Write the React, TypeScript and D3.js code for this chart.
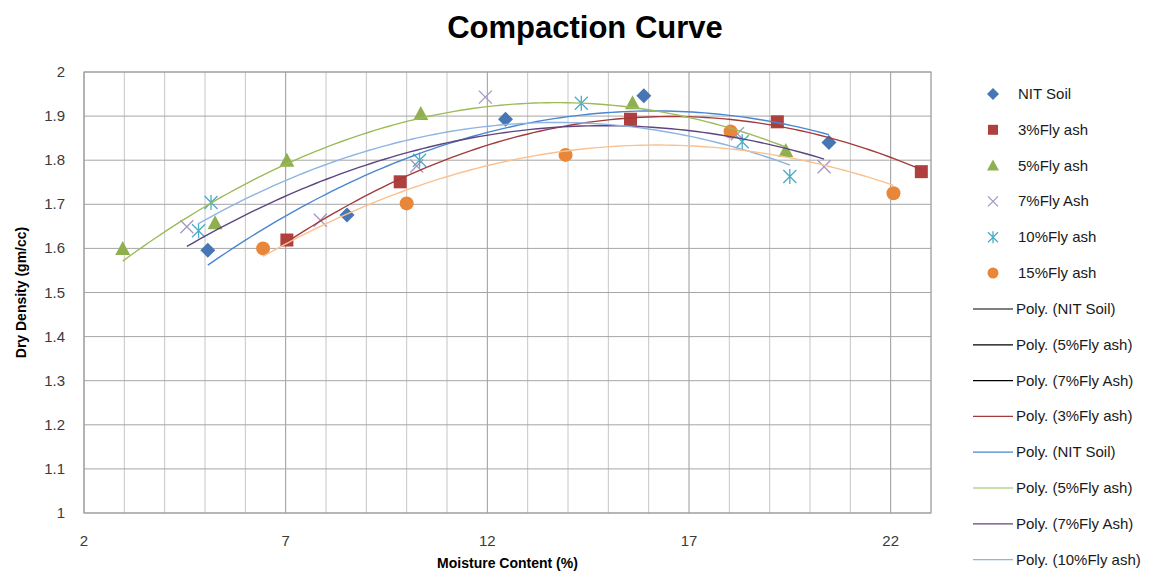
import React from 'react';
import * as d3 from 'd3';

// moisture content (%) and dry density (gm/cc)
const nitX = [5.07, 8.52, 12.45, 15.88, 20.47];
const nitY = [1.596, 1.676, 1.893, 1.946, 1.84];
const fa3X = [7.03, 9.84, 15.55, 19.19, 22.76];
const fa3Y = [1.619, 1.751, 1.893, 1.887, 1.774];
const fa5X = [2.96, 5.25, 7.03, 10.35, 15.6, 19.4];
const fa5Y = [1.6, 1.658, 1.8, 1.906, 1.93, 1.822];
const fa7X = [4.55, 7.86, 10.25, 11.95, 18.2, 20.35];
const fa7Y = [1.649, 1.664, 1.787, 1.943, 1.86, 1.785];
const fa10X = [4.84, 5.15, 10.32, 14.33, 18.32, 19.5];
const fa10Y = [1.64, 1.704, 1.8, 1.929, 1.842, 1.763];
const fa15X = [6.44, 10.0, 13.94, 18.03, 22.07];
const fa15Y = [1.6, 1.702, 1.812, 1.865, 1.725];

const xTicks = [2, 7, 12, 17, 22];
const yTicks = [1, 1.1, 1.2, 1.3, 1.4, 1.5, 1.6, 1.7, 1.8, 1.9, 2];

const series = [
  { name: 'NIT Soil', xs: nitX, ys: nitY, marker: 'diamond', color: '#4676b4', trend: '#4a86d0' },
  { name: '3%Fly ash', xs: fa3X, ys: fa3Y, marker: 'square', color: '#b0403d', trend: '#a33b3b' },
  { name: '5%Fly ash', xs: fa5X, ys: fa5Y, marker: 'triangle', color: '#8fb050', trend: '#9bbb59' },
  { name: '7%Fly Ash', xs: fa7X, ys: fa7Y, marker: 'x', color: '#a696c4', trend: '#5c4580' },
  { name: '10%Fly ash', xs: fa10X, ys: fa10Y, marker: 'asterisk', color: '#4bacc6', trend: '#8db4e2' },
  { name: '15%Fly ash', xs: fa15X, ys: fa15Y, marker: 'circle', color: '#e8873a', trend: '#fac090' },
];

// legend order of the trendlines
const trendLegend = [
  { name: 'Poly. (NIT Soil)', color: '#000000' },
  { name: 'Poly. (5%Fly ash)', color: '#000000' },
  { name: 'Poly. (7%Fly Ash)', color: '#000000' },
  { name: 'Poly. (3%Fly ash)', color: '#a33b3b' },
  { name: 'Poly. (NIT Soil)', color: '#4a86d0' },
  { name: 'Poly. (5%Fly ash)', color: '#9bbb59' },
  { name: 'Poly. (7%Fly Ash)', color: '#5c4580' },
  { name: 'Poly. (10%Fly ash)', color: '#8db4e2' },
];

// 2nd order least squares fit (what Excel's poly trendline does)
function polyFit(xs: number[], ys: number[]) {
  const s = [0, 0, 0, 0, 0];
  const t = [0, 0, 0];
  xs.forEach((x, i) => {
    for (let k = 0; k < 5; k++) s[k] += Math.pow(x, k);
    for (let k = 0; k < 3; k++) t[k] += ys[i] * Math.pow(x, k);
  });
  const m = [
    [s[0], s[1], s[2], t[0]],
    [s[1], s[2], s[3], t[1]],
    [s[2], s[3], s[4], t[2]],
  ];
  for (let c = 0; c < 3; c++) {
    for (let r = c + 1; r < 3; r++) {
      const f = m[r][c] / m[c][c];
      for (let k = c; k < 4; k++) m[r][k] -= f * m[c][k];
    }
  }
  const a = [0, 0, 0];
  for (let r = 2; r >= 0; r--) {
    let v = m[r][3];
    for (let k = r + 1; k < 3; k++) v -= m[r][k] * a[k];
    a[r] = v / m[r][r];
  }
  return (x: number) => a[0] + a[1] * x + a[2] * x * x;
}

function markerPath(type: string, s: number) {
  const h = s / 2;
  switch (type) {
    case 'diamond':
      return `M0,${-h - 1}L${h + 1},0L0,${h + 1}L${-h - 1},0Z`;
    case 'square':
      return `M${-h},${-h}h${s}v${s}h${-s}Z`;
    case 'triangle':
      return `M0,${-h - 1}L${h + 1},${h}L${-h - 1},${h}Z`;
    case 'x':
      return `M${-h},${-h}L${h},${h}M${-h},${h}L${h},${-h}`;
    case 'asterisk':
      return `M${-h},${-h}L${h},${h}M${-h},${h}L${h},${-h}M0,${-h - 1}L0,${h + 1}`;
    default:
      return '';
  }
}

function Marker({ type, color, x, y, s }: { type: string; color: string; x: number; y: number; s: number }) {
  if (type === 'circle') return <circle cx={x} cy={y} r={s / 2 + 0.5} fill={color} />;
  const stroked = type === 'x' || type === 'asterisk';
  return (
    <path
      transform={`translate(${x},${y})`}
      d={markerPath(type, s)}
      fill={stroked ? 'none' : color}
      stroke={stroked ? color : 'none'}
      strokeWidth={stroked ? 1.3 : 0}
    />
  );
}

export default function App() {
  const width = 1171;
  const height = 574;
  const left = 84;
  const right = 931;
  const top = 72;
  const bottom = 513;

  const x = d3.scaleLinear().domain([2, 23]).range([left, right]);
  const y = d3.scaleLinear().domain([1, 2]).range([bottom, top]);

  const minorX = d3.range(2, 24, 1);
  const font = "'Liberation Sans', Arial, sans-serif";

  const line = d3
    .line<number[]>()
    .x(d => x(d[0]))
    .y(d => y(d[1]));

  const trends = series.map(sr => {
    const f = polyFit(sr.xs, sr.ys);
    const x0 = d3.min(sr.xs) as number;
    const x1 = d3.max(sr.xs) as number;
    const pts = d3.range(0, 101).map(i => {
      const xv = x0 + ((x1 - x0) * i) / 100;
      return [xv, f(xv)];
    });
    return { color: sr.trend, d: line(pts) || '' };
  });

  const trendOrder = [1, 0, 2, 3, 4, 5];

  return (
    <svg width={width} height={height} style={{ position: 'absolute', left: 0, top: 0, background: '#fff' }}>
      <text x={585} y={38} textAnchor="middle" fontFamily={font} fontWeight="bold" fontSize={31} fill="#000">
        Compaction Curve
      </text>

      {/* grid */}
      {minorX.map(v => (
        <line
          key={'gx' + v}
          x1={x(v)}
          x2={x(v)}
          y1={top}
          y2={bottom}
          stroke={xTicks.includes(v) ? '#9a9a9a' : '#c6c6c6'}
          strokeWidth={1}
        />
      ))}
      {yTicks.map(v => (
        <line key={'gy' + v} x1={left} x2={right} y1={y(v)} y2={y(v)} stroke="#a6a6a6" strokeWidth={1} />
      ))}
      <rect x={left} y={top} width={right - left} height={bottom - top} fill="none" stroke="#9a9a9a" />

      {/* tick labels */}
      {yTicks.map(v => (
        <text key={'ty' + v} x={65} y={y(v) + 5} textAnchor="end" fontFamily={font} fontSize={15} fill="#3a3a3a">
          {d3.format('~g')(v)}
        </text>
      ))}
      {xTicks.map(v => (
        <text key={'tx' + v} x={x(v)} y={546} textAnchor="middle" fontFamily={font} fontSize={15} fill="#3a3a3a">
          {v}
        </text>
      ))}

      <text
        transform={`translate(26,${(top + bottom) / 2}) rotate(-90)`}
        textAnchor="middle"
        fontFamily={font}
        fontWeight="bold"
        fontSize={14}
        fill="#000"
      >
        Dry Density (gm/cc)
      </text>
      <text x={(left + right) / 2} y={568} textAnchor="middle" fontFamily={font} fontWeight="bold" fontSize={14} fill="#000">
        Moisture Content (%)
      </text>

      {/* markers */}
      {series.map(sr =>
        sr.xs.map((xv, i) => (
          <Marker key={sr.name + i} type={sr.marker} color={sr.color} x={x(xv)} y={y(sr.ys[i])} s={13} />
        ))
      )}

      {/* trendlines */}
      {trendOrder.map(i => (
        <path key={'tr' + i} d={trends[i].d} fill="none" stroke={trends[i].color} strokeWidth={1.4} />
      ))}

      {/* legend */}
      {series.map((sr, i) => (
        <g key={'lg' + i}>
          <Marker type={sr.marker} color={sr.color} x={993} y={94 + i * 35.8} s={10} />
          <text x={1018} y={99 + i * 35.8} fontFamily={font} fontSize={15} fill="#1a1a1a">
            {sr.name}
          </text>
        </g>
      ))}
      {trendLegend.map((t, i) => (
        <g key={'lt' + i}>
          <line x1={973} x2={1013} y1={309 + i * 35.8} y2={309 + i * 35.8} stroke={t.color} strokeWidth={1.2} />
          <text x={1016} y={314 + i * 35.8} fontFamily={font} fontSize={15} fill="#1a1a1a">
            {t.name}
          </text>
        </g>
      ))}
    </svg>
  );
}
